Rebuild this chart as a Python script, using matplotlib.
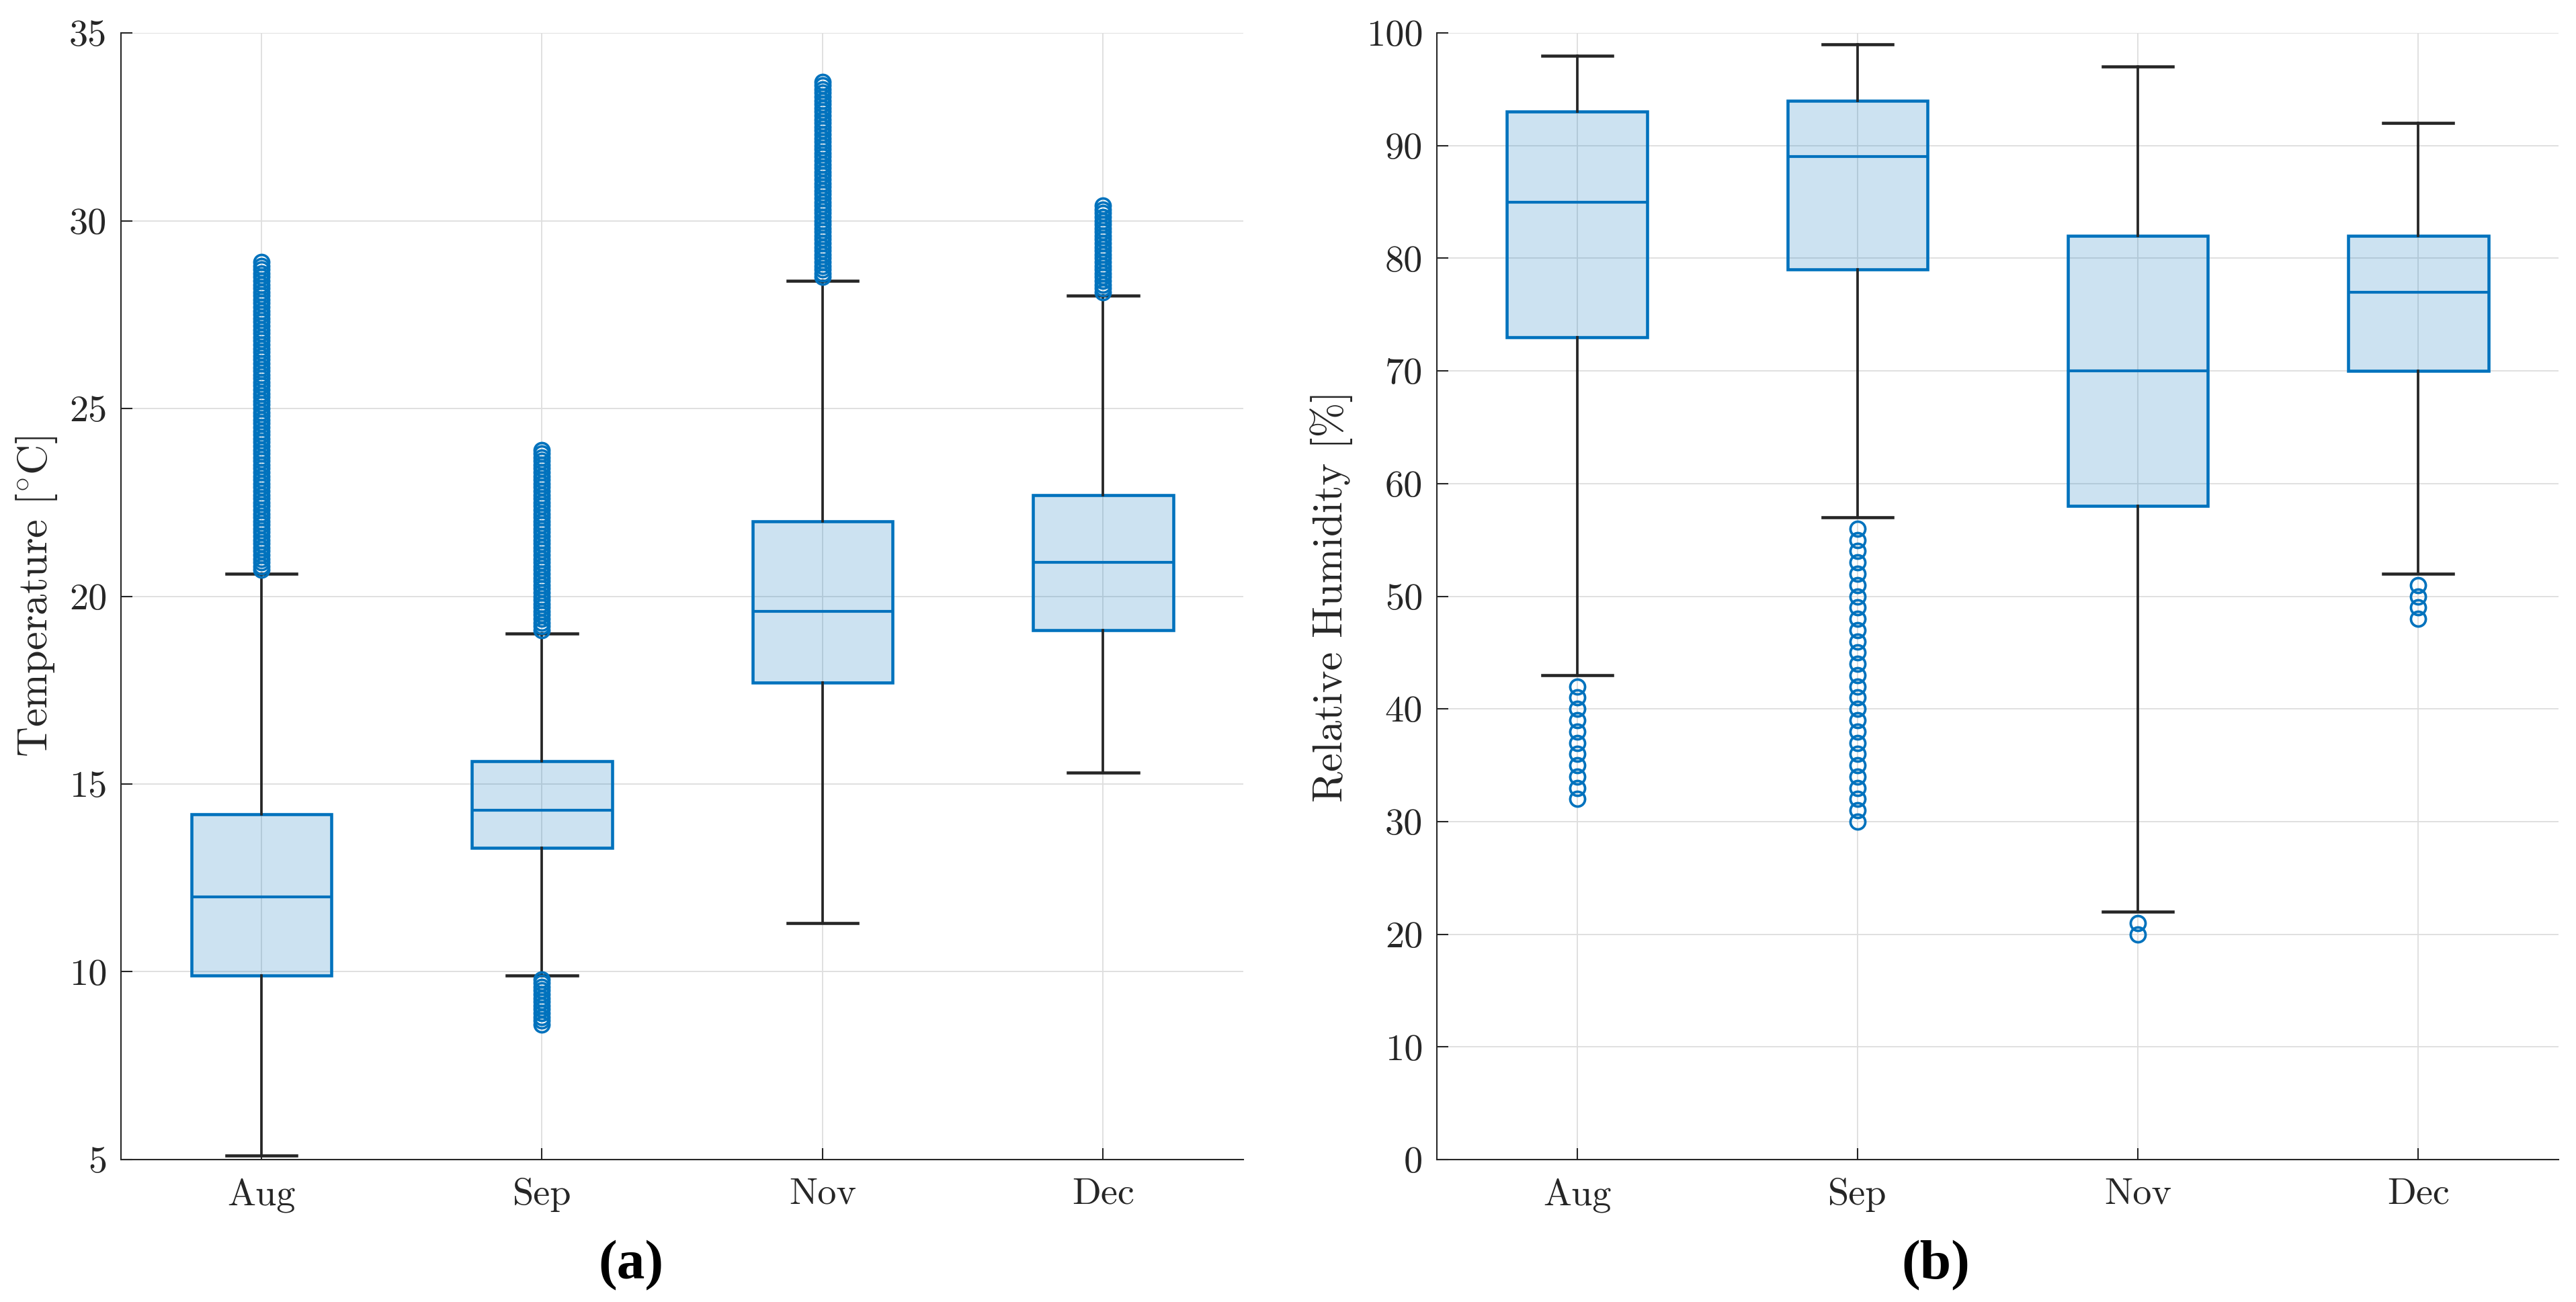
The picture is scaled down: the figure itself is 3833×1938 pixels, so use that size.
import numpy as np
import matplotlib
matplotlib.use("Agg")
import matplotlib.pyplot as plt

plt.rcParams['font.family'] = 'serif'
plt.rcParams['font.serif'] = ['cmr10']
plt.rcParams['mathtext.fontset'] = 'cm'
plt.rcParams['axes.unicode_minus'] = False

months = ['Aug', 'Sep', 'Nov', 'Dec']

# temperature [degC] box statistics
temp_whislo = [5.1, 9.9, 11.3, 15.3]
temp_q1 = [9.9, 13.3, 17.7, 19.1]
temp_med = [12.0, 14.3, 19.6, 20.9]
temp_q3 = [14.2, 15.6, 22.0, 22.7]
temp_whishi = [20.6, 19.0, 28.4, 28.0]

temp_out_aug = [20.7, 20.8, 20.9,
                21.0, 21.1, 21.2, 21.3, 21.4, 21.5, 21.6, 21.7, 21.8, 21.9,
                22.0, 22.1, 22.2, 22.3, 22.4, 22.5, 22.6, 22.7, 22.8, 22.9,
                23.0, 23.1, 23.2, 23.3, 23.4, 23.5, 23.6, 23.7, 23.8, 23.9,
                24.0, 24.1, 24.2, 24.3, 24.4, 24.5, 24.6, 24.7, 24.8, 24.9,
                25.0, 25.1, 25.2, 25.3, 25.4, 25.5, 25.6, 25.7, 25.8, 25.9,
                26.0, 26.1, 26.2, 26.3, 26.4, 26.5, 26.6, 26.7, 26.8, 26.9,
                27.0, 27.1, 27.2, 27.3, 27.4, 27.5, 27.6, 27.7, 27.8, 27.9,
                28.0, 28.1, 28.2, 28.3, 28.4, 28.5, 28.6, 28.7, 28.8, 28.9]
temp_out_sep = [8.6, 8.7, 8.8, 8.9, 9.0, 9.1, 9.2, 9.3, 9.4, 9.5, 9.6, 9.7, 9.8,
                19.1, 19.2, 19.3, 19.4, 19.5, 19.6, 19.7, 19.8, 19.9,
                20.0, 20.1, 20.2, 20.3, 20.4, 20.5, 20.6, 20.7, 20.8, 20.9,
                21.0, 21.1, 21.2, 21.3, 21.4, 21.5, 21.6, 21.7, 21.8, 21.9,
                22.0, 22.1, 22.2, 22.3, 22.4, 22.5, 22.6, 22.7, 22.8, 22.9,
                23.0, 23.1, 23.2, 23.3, 23.4, 23.5, 23.6, 23.7, 23.8, 23.9]
temp_out_nov = [28.5, 28.6, 28.7, 28.8, 28.9,
                29.0, 29.1, 29.2, 29.3, 29.4, 29.5, 29.6, 29.7, 29.8, 29.9,
                30.0, 30.1, 30.2, 30.3, 30.4, 30.5, 30.6, 30.7, 30.8, 30.9,
                31.0, 31.1, 31.2, 31.3, 31.4, 31.5, 31.6, 31.7, 31.8, 31.9,
                32.0, 32.1, 32.2, 32.3, 32.4, 32.5, 32.6, 32.7, 32.8, 32.9,
                33.0, 33.1, 33.2, 33.3, 33.4, 33.5, 33.6, 33.7]
temp_out_dec = [28.1, 28.2, 28.3, 28.4, 28.5, 28.6, 28.7, 28.8, 28.9,
                29.0, 29.1, 29.2, 29.3, 29.4, 29.5, 29.6, 29.7, 29.8, 29.9,
                30.0, 30.1, 30.2, 30.3, 30.4]
temp_fliers = [temp_out_aug, temp_out_sep, temp_out_nov, temp_out_dec]

# relative humidity [%] box statistics
rh_whislo = [43, 57, 22, 52]
rh_q1 = [73, 79, 58, 70]
rh_med = [85, 89, 70, 77]
rh_q3 = [93, 94, 82, 82]
rh_whishi = [98, 99, 97, 92]

rh_out_aug = [32, 33, 34, 35, 36, 37, 38, 39, 40, 41, 42]
rh_out_sep = [30, 31, 32, 33, 34, 35, 36, 37, 38, 39, 40, 41, 42, 43,
              44, 45, 46, 47, 48, 49, 50, 51, 52, 53, 54, 55, 56]
rh_out_nov = [20, 21]
rh_out_dec = [48, 49, 50, 51]
rh_fliers = [rh_out_aug, rh_out_sep, rh_out_nov, rh_out_dec]

blue = '#0072BD'
dark = '#262626'


def make_stats(lo, q1, med, q3, hi, fl):
    return [dict(whislo=lo[i], q1=q1[i], med=med[i], q3=q3[i], whishi=hi[i],
                 fliers=np.array(fl[i]), label=months[i])
            for i in range(len(months))]


def draw_panel(ax, stats, ylim, yticks, ylabel, labelx):
    ax.bxp(stats, positions=[1, 2, 3, 4], widths=0.5, capwidths=0.25,
           patch_artist=True, showfliers=True,
           boxprops=dict(facecolor=(0, 0.447, 0.741, 0.2), edgecolor=blue, linewidth=1.1),
           medianprops=dict(color=blue, linewidth=1.0),
           whiskerprops=dict(color=dark, linewidth=0.9),
           capprops=dict(color=dark, linewidth=1.1),
           flierprops=dict(marker='o', markerfacecolor='none', markeredgecolor=blue,
                           markersize=5.3, markeredgewidth=0.9, linestyle='none'))
    ax.set_xlim(0.5, 4.5)
    ax.set_ylim(*ylim)
    ax.set_yticks(yticks)
    ax.set_xticks([1, 2, 3, 4])
    ax.set_xticklabels(months)
    ax.grid(True, color='#DEDEDE', linewidth=0.45)
    ax.set_axisbelow(True)
    for s in ['top', 'right']:
        ax.spines[s].set_visible(False)
    for s in ['left', 'bottom']:
        ax.spines[s].set_color(dark)
        ax.spines[s].set_linewidth(0.5)
    ax.tick_params(direction='in', length=4, width=0.5, color=dark,
                   labelsize=13.5, labelcolor=dark)
    ax.tick_params(axis='y', pad=5)
    ax.tick_params(axis='x', pad=6.5)
    ax.set_ylabel(ylabel, fontsize=15, color=dark)
    ax.yaxis.set_label_coords(labelx, 0.5)


fig = plt.figure(figsize=(3833 / 300, 1938 / 300), dpi=300)
ax1 = fig.add_axes([0.0470, 0.1094, 0.4357, 0.8653])
ax2 = fig.add_axes([0.5578, 0.1094, 0.4354, 0.8653])

draw_panel(ax1, make_stats(temp_whislo, temp_q1, temp_med, temp_q3, temp_whishi, temp_fliers),
           (5, 35), np.arange(5, 36, 5), r'Temperature [$^{\circ}\mathrm{C}$]', -0.055)
draw_panel(ax2, make_stats(rh_whislo, rh_q1, rh_med, rh_q3, rh_whishi, rh_fliers),
           (0, 100), np.arange(0, 101, 10), 'Relative Humidity [%]', -0.075)

fig.text(0.245, 0.028, '(a)', fontsize=20, fontweight='bold',
         family='Liberation Serif', ha='center', va='center')
fig.text(0.7514, 0.028, '(b)', fontsize=20, fontweight='bold',
         family='Liberation Serif', ha='center', va='center')

fig.savefig('out.png', dpi=300)
